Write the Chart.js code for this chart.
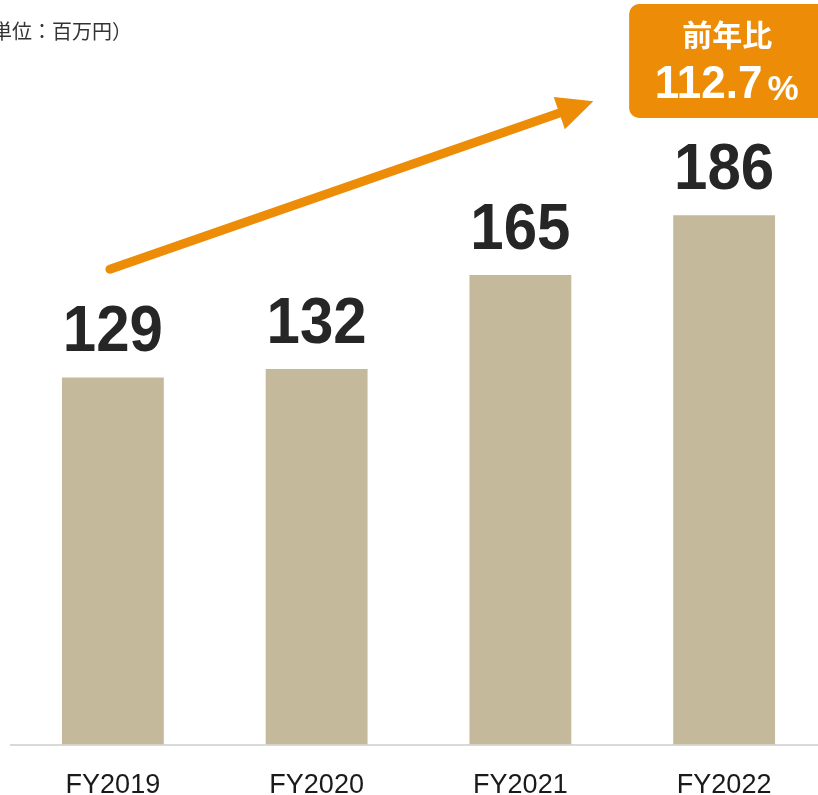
<!DOCTYPE html>
<html>
<head>
<meta charset="utf-8">
<script src="https://cdn.jsdelivr.net/npm/chart.js@4"></script>
<style>
  html, body { margin: 0; padding: 0; background: #fff; overflow: hidden; }
  #wrap { position: relative; width: 818px; height: 795px; overflow: hidden; }
  #chart { position: absolute; left: 0; top: 0; }
</style>
</head>
<body>
<div id="wrap"><canvas id="chart" width="830" height="827"></canvas></div>
<script>
const years = ['FY2019', 'FY2020', 'FY2021', 'FY2022'];
const sales = [129, 132, 165, 186];
const unitNote = '（単位：百万円）';
const yoyTitle = '前年比';
const yoyRate = '112.7';

const BAR = '#C4B99A';
const ORANGE = '#EC8C07';
const NUM_FONT = '"Liberation Sans", Arial, sans-serif';
const JP_FONT = '"Noto Sans CJK JP", sans-serif';

// value labels, trend arrow, yoy badge and unit note
const overlay = {
  id: 'overlay',
  afterDatasetsDraw(chart) {
    const ctx = chart.ctx;
    const xs = chart.scales.x, ys = chart.scales.y;
    const meta = chart.getDatasetMeta(0);
    ctx.save();

    // numbers above the bars
    ctx.fillStyle = '#262626';
    ctx.font = 'bold 60px ' + NUM_FONT;
    ctx.textAlign = 'center';
    ctx.textBaseline = 'alphabetic';
    meta.data.forEach((bar, i) => {
      ctx.save();
      ctx.translate(bar.x, bar.y - 26);
      ctx.scale(1, 1.08);
      ctx.fillText(String(sales[i]), 0, 0);
      ctx.restore();
    });

    // trend arrow
    const x0 = xs.getPixelForValue(0), x3 = xs.getPixelForValue(3);
    const sx = x0 - 3, sy = ys.getPixelForValue(167);
    const tx = x0 + 0.786 * (x3 - x0), ty = ys.getPixelForValue(226);
    const dx = tx - sx, dy = ty - sy, len = Math.hypot(dx, dy);
    const ux = dx / len, uy = dy / len;
    const headLen = 36, headHalf = 17;
    const bx = tx - ux * headLen, by = ty - uy * headLen;
    ctx.strokeStyle = ORANGE;
    ctx.lineWidth = 9;
    ctx.lineCap = 'round';
    ctx.beginPath();
    ctx.moveTo(sx, sy);
    ctx.lineTo(bx + ux * 4, by + uy * 4);
    ctx.stroke();
    ctx.fillStyle = ORANGE;
    ctx.beginPath();
    ctx.moveTo(tx, ty);
    ctx.lineTo(bx - uy * headHalf, by + ux * headHalf);
    ctx.lineTo(bx + uy * headHalf, by - ux * headHalf);
    ctx.closePath();
    ctx.fill();

    // yoy badge
    const cx = x3;
    ctx.beginPath();
    ctx.roundRect(cx - 95, 4, 200, 114, 10);
    ctx.fill();
    ctx.fillStyle = '#fff';
    ctx.textAlign = 'center';
    ctx.textBaseline = 'middle';
    ctx.font = 'bold 30px ' + JP_FONT;
    ctx.fillText(yoyTitle, cx + 3, 35);
    ctx.textAlign = 'left';
    ctx.textBaseline = 'alphabetic';
    ctx.font = 'bold 44px ' + NUM_FONT;
    const w1 = ctx.measureText(yoyRate).width;
    ctx.font = 'bold 35px ' + NUM_FONT;
    const w2 = ctx.measureText('%').width;
    const left = cx + 2.5 - (w1 + 5 + w2) / 2;
    ctx.save();
    ctx.translate(left, 98);
    ctx.scale(1, 1.05);
    ctx.font = 'bold 44px ' + NUM_FONT;
    ctx.fillText(yoyRate, 0, 0);
    ctx.restore();
    ctx.fillText('%', left + w1 + 5, 100);

    // unit note, top left
    ctx.fillStyle = '#333';
    ctx.font = '20px ' + JP_FONT;
    ctx.textBaseline = 'middle';
    ctx.fillText(unitNote, -28, 31);

    ctx.restore();
  }
};

new Chart(document.getElementById('chart'), {
  type: 'bar',
  data: {
    labels: years,
    datasets: [{
      data: sales,
      backgroundColor: BAR,
      barPercentage: 0.5,
      categoryPercentage: 1
    }]
  },
  options: {
    responsive: false,
    animation: false,
    layout: { padding: { left: 11, right: 4, top: 33, bottom: 0 } },
    plugins: {
      legend: { display: false },
      tooltip: { enabled: false }
    },
    scales: {
      x: {
        grid: { display: false, drawTicks: false },
        border: { color: '#d9d9d9', width: 2 },
        ticks: {
          color: '#1a1a1a',
          font: { family: 'Liberation Sans', size: 27 },
          padding: 25
        }
      },
      y: { display: false, min: 0, max: 250 }
    }
  },
  plugins: [overlay]
});
</script>
</body>
</html>
